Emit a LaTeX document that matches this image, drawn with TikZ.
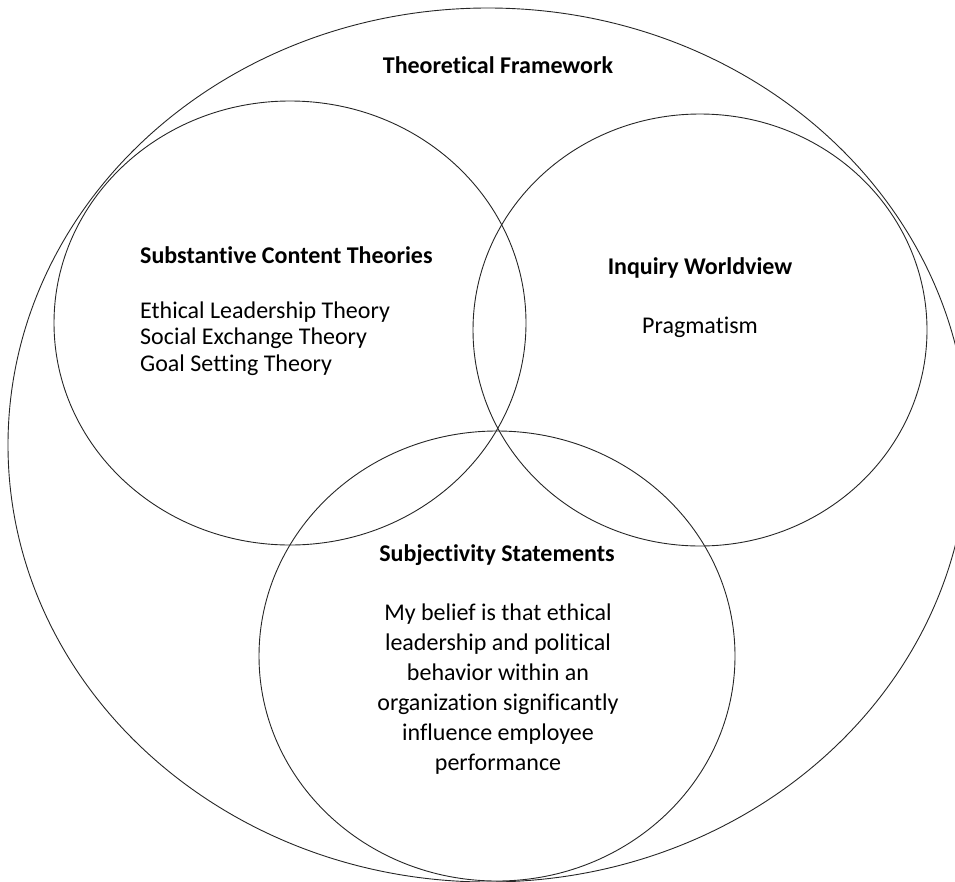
\documentclass[tikz,border=0pt]{standalone}
\usepackage{fontspec}
\setmainfont{Carlito}[Ligatures=CommonOff]
\usetikzlibrary{positioning}

\begin{document}
\begin{tikzpicture}[
  x=1pt, y=-1pt,
  ring/.style={draw=black!85, line width=0.9pt},
  head/.style={font=\fontsize{24}{28}\selectfont\bfseries, inner sep=0pt, anchor=base},
  body/.style={font=\fontsize{24}{26.3}\selectfont, inner sep=0pt, anchor=base},
  para/.style={font=\fontsize{24}{30}\selectfont, inner sep=0pt, align=center, anchor=base}
]
\useasboundingbox (0,0) rectangle (955,881);
% outer frame and the three sets
\draw[ring] (488,445) ellipse [x radius=480, y radius=437];
\draw[ring] (290,323) ellipse [x radius=236, y radius=222];
\draw[ring] (700,330) ellipse [x radius=227, y radius=216];
\draw[ring] (497,656) ellipse [x radius=238, y radius=225];

\node[head] (frame) at (498,73) {Theoretical Framework};

% multi-line nodes sit on the baseline of their last line
\node[head, anchor=base west] (content) at (140,263) {Substantive Content Theories};
\node[body, align=left, anchor=base west] (theories) at (140,371)
  {Ethical Leadership Theory\\Social Exchange Theory\\Goal Setting Theory};

\node[head] (inquiry) at (700,274) {Inquiry Worldview};
\node[body] (pragma) at (700,333) {Pragmatism};

\node[head] (subj) at (497,561) {Subjectivity Statements};
\node[para] (belief) at (498,770)
  {My belief is that ethical\\leadership and political\\behavior within an\\organization significantly\\influence employee\\performance};
\end{tikzpicture}
\end{document}
